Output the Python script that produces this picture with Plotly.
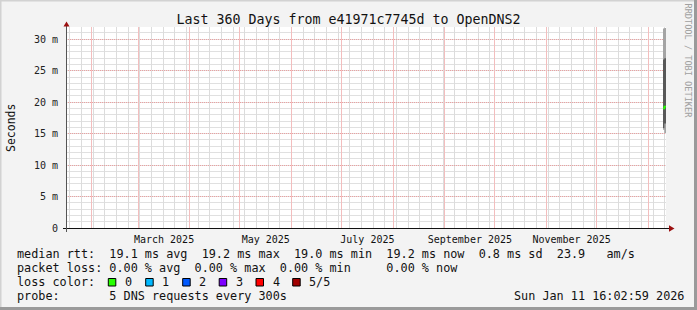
import pandas as pd
import plotly.graph_objects as go

# ---------------- data ----------------
x_start = "2025-01-16 16:02:59"
x_end = "2026-01-11 16:02:59"
week_lines = [d.strftime("%Y-%m-%d") for d in pd.date_range("2025-01-19", "2026-01-11", freq="7D")]
month_starts = ["2025-02-01", "2025-03-01", "2025-04-01", "2025-05-01", "2025-06-01",
                "2025-07-01", "2025-08-01", "2025-09-01", "2025-10-01", "2025-11-01",
                "2025-12-01", "2026-01-01"]
label_dates = ["2025-03-16 12:00", "2025-05-16 12:00", "2025-07-16 12:00",
               "2025-09-16 00:00", "2025-11-16 00:00"]
label_text = ["March 2025", "May 2025", "July 2025", "September 2025", "November 2025"]
y_ticks = [0, 5, 10, 15, 20, 25, 30]
y_tick_text = ["0", "5 m", "10 m", "15 m", "20 m", "25 m", "30 m"]

# smoke samples (ms), sorted pings per interval
sample_times = ["2026-01-09 20:50:00", "2026-01-10 16:00:00", "2026-01-11 16:02:59"]
ping_min = [15.6, 15.1, 15.1]
ping_lo = [15.9, 16.6, 16.6]
ping_median = [19.0, 19.3, 19.3]
ping_hi = [26.8, 27.0, 27.0]
ping_max = [31.7, 31.8, 31.8]

loss_labels = ["0", "1", "2", "3", "4", "5/5"]
loss_colors = ["#26ff00", "#00b8ff", "#0059ff", "#7e00ff", "#ff0000", "#a10000"]

legend_line1 = "median rtt:  19.1 ms avg  19.2 ms max  19.0 ms min  19.2 ms now  0.8 ms sd  23.9   am/s"
legend_line2 = "packet loss: 0.00 % avg  0.00 % max  0.00 % min     0.00 % now"
legend_line3 = "loss color:"
legend_line4 = "probe:       5 DNS requests every 300s"
stamp = "Sun Jan 11 16:02:59 2026"

# ---------------- layout geometry ----------------
W, H = 697, 310
L, R, T, B = 66, 31, 27, 82
PW = W - L - R
PH = H - T - B
MONO = "DejaVu Sans Mono"


def px(x):
    return (x - L) / PW


def py(y):
    return (H - B - y) / PH


fig = go.Figure()

# smoke: outer band
fig.add_trace(go.Scatter(x=sample_times, y=ping_min, mode="lines", line=dict(width=0, shape="hv"),
                         showlegend=False, hoverinfo="skip"))
fig.add_trace(go.Scatter(x=sample_times, y=ping_max, mode="lines", line=dict(width=0, shape="hv"),
                         fill="tonexty", fillcolor="#a4a4a4", showlegend=False, hoverinfo="skip"))
# inner band
fig.add_trace(go.Scatter(x=sample_times, y=ping_lo, mode="lines", line=dict(width=0, shape="hv"),
                         showlegend=False, hoverinfo="skip"))
fig.add_trace(go.Scatter(x=sample_times, y=ping_hi, mode="lines", line=dict(width=0, shape="hv"),
                         fill="tonexty", fillcolor="#585858", showlegend=False, hoverinfo="skip"))
# median
fig.add_trace(go.Scatter(x=sample_times, y=ping_median, mode="lines",
                         line=dict(width=1.6, color=loss_colors[0], shape="hv"),
                         showlegend=False, hoverinfo="skip"))
# helper traces for overlay axes
for ax in ("x2", "x3"):
    fig.add_trace(go.Scatter(x=[x_start, x_end], y=[None, None], xaxis=ax, mode="lines",
                             showlegend=False, hoverinfo="skip"))

MAJOR = "rgb(236,160,160)"
MAJOR_V = "rgb(243,190,190)"
MINOR_V = "rgb(220,220,220)"
MINOR_H = "rgb(224,224,224)"
DASH = "1px,1px"

fig.update_layout(
    width=W, height=H,
    margin=dict(l=L, r=R, t=T, b=B, pad=0),
    paper_bgcolor="#f3f3f3",
    plot_bgcolor="#ffffff",
    showlegend=False,
    title=dict(text="Last 360 Days from e41971c7745d to OpenDNS2",
               font=dict(family=MONO, size=13.3, color="#111111"),
               x=0.5, xref="container", xanchor="center",
               y=1 - 19.5 / H, yref="container", yanchor="middle"),
    xaxis=dict(type="date", range=[x_start, x_end], tickmode="array", tickvals=week_lines,
               showticklabels=False, ticks="", showgrid=True, gridcolor=MINOR_V, griddash="solid",
               gridwidth=1, zeroline=False, showline=False),
    xaxis2=dict(type="date", range=[x_start, x_end], overlaying="x", anchor="y", side="bottom",
                tickmode="array", tickvals=month_starts, showticklabels=False, ticks="",
                showgrid=True, gridcolor=MAJOR_V, griddash="solid", gridwidth=1,
                zeroline=False, showline=False),
    xaxis3=dict(type="date", range=[x_start, x_end], overlaying="x", anchor="y", side="bottom",
                tickmode="array", tickvals=label_dates, ticktext=label_text, showgrid=False,
                ticks="outside", ticklen=2, tickcolor="rgba(0,0,0,0)", zeroline=False,
                showline=False, tickfont=dict(family=MONO, size=10, color="#111111")),
    yaxis=dict(range=[0, 31.95], tickmode="array", tickvals=y_ticks, ticktext=y_tick_text,
               showgrid=True, gridcolor=MAJOR, griddash=DASH, gridwidth=1,
               zeroline=False, showline=False, ticks="outside", ticklen=5,
               tickcolor="rgba(0,0,0,0)",
               tickfont=dict(family=MONO, size=10, color="#222222"),
               minor=dict(showgrid=True, dtick=1, gridcolor=MINOR_H, griddash="solid",
                          gridwidth=1, ticks="")),
)

shapes = []
# frame
shapes.append(dict(type="rect", xref="paper", yref="paper", x0=px(0), x1=px(W), y0=py(0), y1=py(1.5),
                   fillcolor="#d2d2d2", line=dict(width=0)))
shapes.append(dict(type="rect", xref="paper", yref="paper", x0=px(0), x1=px(1.5), y0=py(0), y1=py(H),
                   fillcolor="#d2d2d2", line=dict(width=0)))
shapes.append(dict(type="rect", xref="paper", yref="paper", x0=px(694), x1=px(W), y0=py(0), y1=py(H),
                   fillcolor="#9a9a9a", line=dict(width=0)))
shapes.append(dict(type="rect", xref="paper", yref="paper", x0=px(0), x1=px(W), y0=py(307), y1=py(H),
                   fillcolor="#9a9a9a", line=dict(width=0)))
# axes
shapes.append(dict(type="line", xref="paper", yref="paper", x0=px(63), x1=px(670), y0=py(228.5), y1=py(228.5),
                   line=dict(color="#111111", width=1)))
shapes.append(dict(type="line", xref="paper", yref="paper", x0=px(66.5), x1=px(66.5), y0=py(232), y1=py(25),
                   line=dict(color="#555555", width=1)))
shapes.append(dict(type="path", xref="paper", yref="paper",
                   path="M {} {} L {} {} L {} {} Z".format(px(669), py(225.3), px(674.5), py(228.5), px(669), py(231.7)),
                   fillcolor="#9b1010", line=dict(width=0)))
shapes.append(dict(type="path", xref="paper", yref="paper",
                   path="M {} {} L {} {} L {} {} Z".format(px(63.5), py(26.5), px(66.5), py(21.5), px(69.5), py(26.5)),
                   fillcolor="#9b1010", line=dict(width=0)))
# loss color squares
sq_x = [108.3, 145.7, 182.7, 219.2, 256.0, 292.7]
for x0, c in zip(sq_x, loss_colors):
    shapes.append(dict(type="rect", xref="paper", yref="paper", x0=px(x0), x1=px(x0 + 7.5),
                       y0=py(286), y1=py(278.5), fillcolor=c, line=dict(color="#000000", width=1)))
fig.update_layout(shapes=shapes)

ann = []
LF = 11.8


def seg(text, x, ycen, size=LF, color="#111111"):
    ann.append(dict(text=text.replace(" ", "\u00a0"), x=px(x - 0.8), y=py(ycen), xref="paper", yref="paper",
                    xanchor="left", yanchor="middle", showarrow=False,
                    font=dict(family=MONO, size=size, color=color)))


seg(legend_line1, 16, 253.5)
seg(legend_line2, 16, 267.5)
seg(legend_line3, 16, 281.5)
lab_x = [124, 161, 197.7, 235, 271.7, 308]
for t, x in zip(loss_labels, lab_x):
    seg(t, x, 281.5)
seg(legend_line4, 16, 295.5)
seg(stamp, 512.5, 295.5)

ann.append(dict(text="Seconds", x=px(11), y=py(128), xref="paper", yref="paper", textangle=-90,
                showarrow=False, xanchor="center", yanchor="middle",
                font=dict(family=MONO, size=11.5, color="#111111")))
ann.append(dict(text="RRDTOOL / TOBI OETIKER", x=px(687.5), y=py(61), xref="paper", yref="paper",
                textangle=90, showarrow=False, xanchor="center", yanchor="middle",
                font=dict(family=MONO, size=8.6, color="#a0a0a0")))
fig.update_layout(annotations=ann)

fig.write_html("out.html")
